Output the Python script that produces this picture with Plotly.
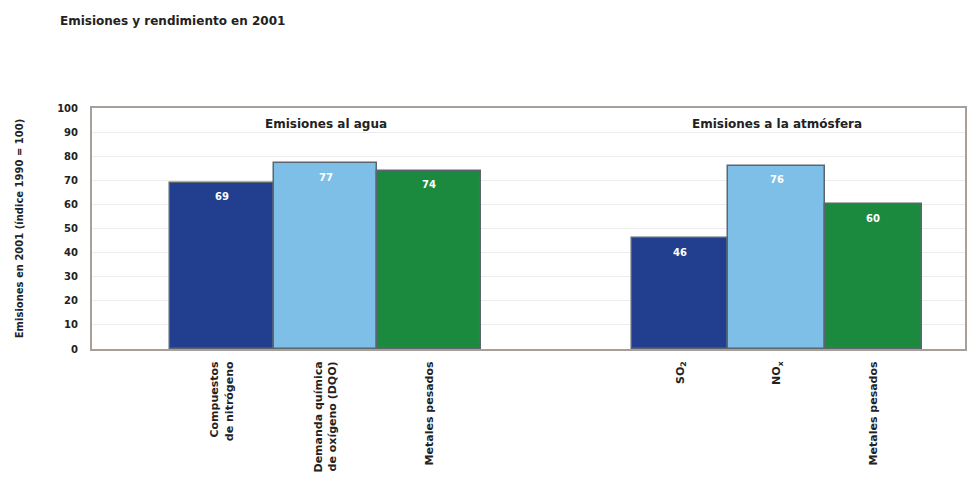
import plotly.graph_objects as go

# Emission indices for 2001 (1990 = 100)
water_labels = ["Compuestos<br>de nitrógeno", "Demanda química<br>de oxígeno (DQO)", "Metales pesados"]
water_values = [69, 77, 74]
air_labels = ["SO<sub>2</sub>", "NO<sub>x</sub>", "Metales pesados"]
air_values = [46, 76, 60]
bar_colors = ["#213f8e", "#7dbfe6", "#1b8a3f"]
y_ticks = [0, 10, 20, 30, 40, 50, 60, 70, 80, 90, 100]

# bar slots: two groups of three, separated by a gap
water_w, air_w = 1.03, 0.96
water_x = [1.29 + i * water_w for i in range(len(water_values))]
air_x = [5.84 + i * air_w for i in range(len(air_values))]

FONT = "DejaVu Sans"
TXT = "#222222"

fig = go.Figure()
annotations = []
for xs, vals, w in ((water_x, water_values, water_w), (air_x, air_values, air_w)):
    fig.add_trace(go.Bar(
        x=xs, y=vals, width=w,
        marker=dict(color=bar_colors, line=dict(color="#5d6670", width=1.5)),
        showlegend=False, hoverinfo="skip",
    ))
    for x, v in zip(xs, vals):
        annotations.append(dict(
            text="<b>%d</b>" % v, x=x, y=v, xref="x", yref="y",
            yshift=-14, yanchor="middle", showarrow=False,
            font=dict(family=FONT, size=10, color="white"),
        ))

annotations += [
    dict(text="<b>Emisiones y rendimiento en 2001</b>", xref="paper", yref="paper",
         x=-0.039, y=1.36, xanchor="left", yanchor="middle", showarrow=False,
         font=dict(family=FONT, size=12, color=TXT)),
    dict(text="<b>Emisiones al agua</b>", xref="x", yref="paper",
         x=water_x[1], y=0.945, showarrow=False, yshift=6,
         font=dict(family=FONT, size=12, color=TXT)),
    dict(text="<b>Emisiones a la atmósfera</b>", xref="x", yref="paper",
         x=air_x[1], y=0.945, showarrow=False, yshift=6,
         font=dict(family=FONT, size=12, color=TXT)),
]

fig.update_layout(
    width=970, height=492,
    margin=dict(l=92, r=3, t=108, b=143),
    paper_bgcolor="white", plot_bgcolor="white",
    bargap=0,
    font=dict(family=FONT, size=10, color=TXT),
    xaxis=dict(
        range=[0, 8.67], tickmode="array",
        tickvals=water_x + air_x,
        ticktext=["<b>%s</b>" % t for t in water_labels + air_labels],
        tickangle=-90, tickfont=dict(family=FONT, size=11, color=TXT),
        showgrid=False, zeroline=False,
        showline=True, linecolor="#a79f9a", linewidth=2, mirror=True,
        ticks="", ticklabelstandoff=6,
    ),
    yaxis=dict(
        range=[0, 100], tickmode="array", tickvals=y_ticks,
        ticktext=["<b>%d</b>" % v for v in y_ticks],
        tickfont=dict(family=FONT, size=10, color=TXT),
        showgrid=True, gridcolor="#ececec", gridwidth=1, zeroline=False,
        showline=True, linecolor="#a79f9a", linewidth=2, mirror=True,
        ticks="", ticklabelstandoff=10,
        title=dict(text="<b>Emisiones en 2001 (índice 1990 = 100)</b>",
                   font=dict(family=FONT, size=10, color=TXT), standoff=32),
    ),
    annotations=annotations,
)

fig.write_html("out.html")
